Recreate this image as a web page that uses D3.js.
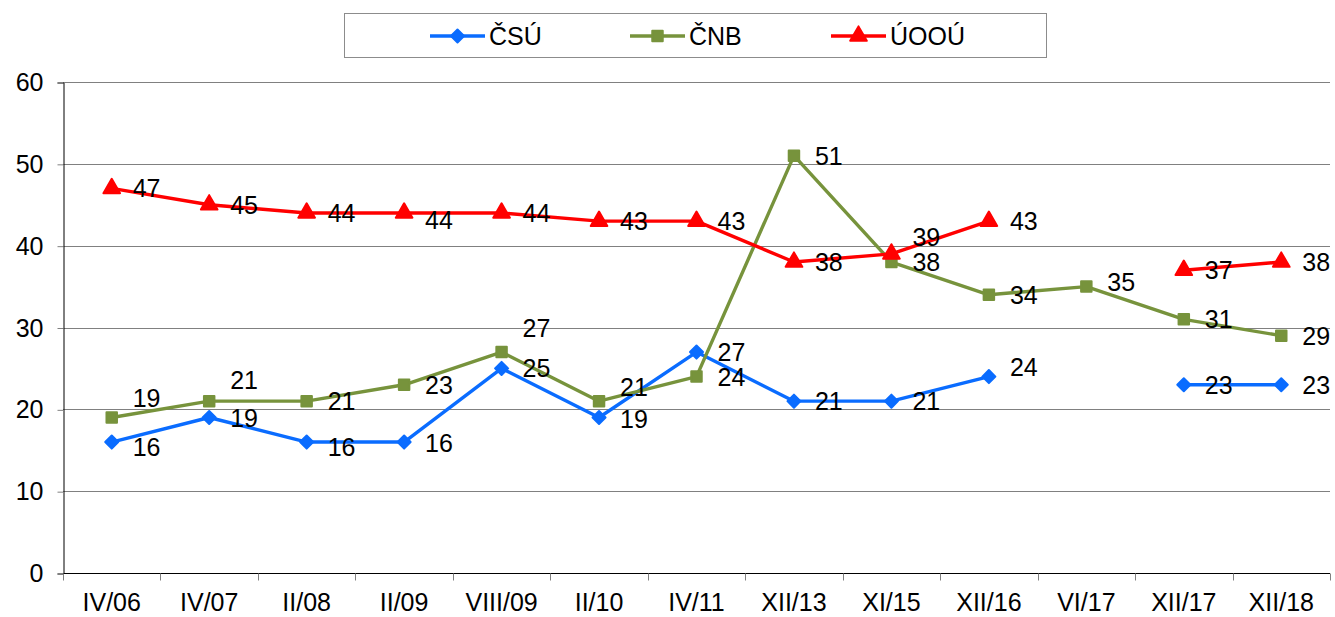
<!DOCTYPE html>
<html>
<head>
<meta charset="utf-8">
<script src="https://cdn.jsdelivr.net/npm/d3@7"></script>
<style>
  body { margin: 0; background: #fff; }
  text { font-family: "Liberation Sans", Arial, Helvetica, sans-serif; fill: #000; }
</style>
</head>
<body>
<div id="chart"></div>
<script>
var categories = ["IV/06", "IV/07", "II/08", "II/09", "VIII/09", "II/10", "IV/11",
                  "XII/13", "XI/15", "XII/16", "VI/17", "XII/17", "XII/18"];
var csu  = [16, 19, 16, 16, 25, 19, 27, 21, 21, 24, null, 23, 23];
var cnb  = [19, 21, 21, 23, 27, 21, 24, 51, 38, 34, 35, 31, 29];
var uoou = [47, 45, 44, 44, 44, 43, 43, 38, 39, 43, null, 37, 38];
var yTicks = [0, 10, 20, 30, 40, 50, 60];

// vertical nudges of the value labels (px), the way Excel left them
var csuNudge  = [5, 0, 5, 1, 0, 1, 0, 0, 0, -10, 0, 0, 0];
var cnbNudge  = [-20, -21, 0, 0, -24, -14, 0, 0, 0, 0, -5, 0, 0];
var uoouNudge = [0, 0, 0, 7, 0, 0, 0, 0, -17, 0, 0, 0, 0];

// square turned 45deg gives the Excel diamond
var rhomb = {
  draw: function (ctx, size) {
    var r = Math.sqrt(size / 2);
    ctx.moveTo(0, -r); ctx.lineTo(r, 0); ctx.lineTo(0, r); ctx.lineTo(-r, 0); ctx.closePath();
  }
};

var series = [
  { name: "ČSÚ", values: csu, nudge: csuNudge, color: "#0a6cff", marker: rhomb, size: 85 },
  { name: "ČNB", values: cnb, nudge: cnbNudge, color: "#77933c", marker: d3.symbolSquare, size: 110 },
  { name: "ÚOOÚ", values: uoou, nudge: uoouNudge, color: "#ff0000", marker: d3.symbolTriangle, size: 120 }
];

var width = 1335;
var height = 617;
var plotLeft = 63, plotRight = 1330, plotTop = 82, plotBottom = 573;

var x = d3.scaleBand().domain(categories).range([plotLeft, plotRight]);
var y = d3.scaleLinear().domain([0, 60]).range([plotBottom, plotTop]);

var svg = d3.select("#chart")
    .append("svg")
    .attr("width", width)
    .attr("height", height);

// gridlines
svg.append("g")
    .selectAll("line")
    .data(yTicks.filter(function (d) { return d > 0; }))
    .enter().append("line")
    .attr("x1", plotLeft).attr("x2", plotRight)
    .attr("y1", function (d) { return Math.round(y(d)) + 0.5; })
    .attr("y2", function (d) { return Math.round(y(d)) + 0.5; })
    .attr("stroke", "#808080")
    .attr("stroke-width", 1);

// y axis
var yAxis = svg.append("g")
    .attr("transform", "translate(" + (plotLeft + 0.5) + ",0.5)")
    .call(d3.axisLeft(y).tickValues(yTicks).tickSize(6).tickPadding(14));
yAxis.select(".domain").attr("stroke", "#000");
yAxis.selectAll(".tick line").attr("stroke", "#808080");
yAxis.selectAll("text").style("font-size", "25px").attr("fill", "#000");

// x axis
var xAxis = svg.append("g")
    .attr("transform", "translate(0," + (plotBottom + 0.5) + ")")
    .call(d3.axisBottom(x).tickSize(0).tickPadding(20));
xAxis.select(".domain").attr("stroke", "#000").attr("d", "M" + plotLeft + ",0H" + plotRight);
xAxis.selectAll("text").style("font-size", "25px").attr("fill", "#000");
xAxis.selectAll(".bound")
    .data(d3.range(categories.length + 1))
    .enter().append("line")
    .attr("class", "bound")
    .attr("x1", function (i) { return Math.round(plotLeft + i * x.step()) + 0.5; })
    .attr("x2", function (i) { return Math.round(plotLeft + i * x.step()) + 0.5; })
    .attr("y1", 0).attr("y2", 7)
    .attr("stroke", "#808080");

function cx(i) { return x(categories[i]) + x.bandwidth() / 2; }

var line = d3.line()
    .defined(function (d) { return d !== null; })
    .x(function (d, i) { return cx(i); })
    .y(function (d) { return y(d); });

series.forEach(function (s) {
  var g = svg.append("g");
  g.append("path")
      .datum(s.values)
      .attr("fill", "none")
      .attr("stroke", s.color)
      .attr("stroke-width", 3.4)
      .attr("stroke-linejoin", "round")
      .attr("d", line);
  var pts = s.values.map(function (v, i) { return { v: v, i: i }; })
      .filter(function (p) { return p.v !== null; });
  g.selectAll(".pt")
      .data(pts)
      .enter().append("path")
      .attr("class", "pt")
      .attr("d", d3.symbol().type(s.marker).size(s.size))
      .attr("fill", s.color)
      .attr("stroke", s.color)
      .attr("stroke-width", 2)
      .attr("stroke-linejoin", "round")
      .attr("transform", function (p) { return "translate(" + cx(p.i) + "," + y(p.v) + ")"; });
  s.pts = pts;
});

// value labels on top of all lines
series.forEach(function (s) {
  svg.append("g").selectAll("text")
      .data(s.pts)
      .enter().append("text")
      .attr("x", function (p) { return cx(p.i) + 21; })
      .attr("y", function (p) { return y(p.v) + s.nudge[p.i]; })
      .attr("dy", "0.36em")
      .style("font-size", "25px")
      .text(function (p) { return p.v; });
});

// legend
var legend = svg.append("g");
legend.append("rect")
    .attr("x", 344.5).attr("y", 13.5)
    .attr("width", 702).attr("height", 44)
    .attr("fill", "#fff")
    .attr("stroke", "#8c8c8c");
var legendX = [430, 630, 831];
series.forEach(function (s, k) {
  var lg = legend.append("g").attr("transform", "translate(" + legendX[k] + ",36)");
  lg.append("line").attr("x1", 0).attr("x2", 55).attr("y1", 0).attr("y2", 0)
      .attr("stroke", s.color).attr("stroke-width", 3.4);
  lg.append("path")
      .attr("d", d3.symbol().type(s.marker).size(s.size))
      .attr("fill", s.color).attr("stroke", s.color).attr("stroke-width", 2)
      .attr("stroke-linejoin", "round")
      .attr("transform", "translate(27.5,0)");
  lg.append("text").attr("x", 59).attr("y", 0).attr("dy", "0.36em")
      .style("font-size", "25px").text(s.name);
});
</script>
</body>
</html>
